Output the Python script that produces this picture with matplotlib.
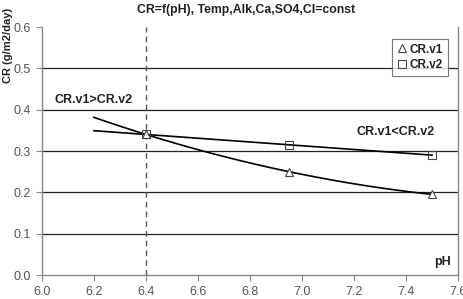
import numpy as np
import matplotlib
matplotlib.use("Agg")
import matplotlib.pyplot as plt

plt.rcParams['font.family'] = ['Liberation Sans', 'DejaVu Sans']

ph = [6.4, 6.95, 7.5]
cr_v1 = [0.34, 0.25, 0.195]
cr_v2 = [0.34, 0.315, 0.29]
trend_start = 6.2
xticks = [6.0, 6.2, 6.4, 6.6, 6.8, 7.0, 7.2, 7.4, 7.6]
yticks = [0.0, 0.1, 0.2, 0.3, 0.4, 0.5, 0.6]

fig = plt.figure(figsize=(4.64, 2.99), dpi=100)
ax = fig.add_axes([42/464, 1 - 275/299, 416/464, 248/299])

xs = np.linspace(trend_start, ph[-1], 100)
p1 = np.polyfit(ph, cr_v1, 2)
p2 = np.polyfit(ph, cr_v2, 1)
ax.plot(xs, np.polyval(p1, xs), color='black', lw=1.2, zorder=3)
ax.plot(xs, np.polyval(p2, xs), color='black', lw=1.2, zorder=3)

ax.plot(ph, cr_v1, linestyle='none', marker='^', mfc='white', mec='#444444', ms=6, mew=0.8, label='CR.v1', zorder=4)
ax.plot(ph, cr_v2, linestyle='none', marker='s', mfc='none', mec='#444444', ms=6, mew=0.8, label='CR.v2', zorder=4)

ax.axvline(6.4, color='#555555', ls=(0, (4, 3)), lw=1.0, zorder=2)

ax.set_xlim(6.0, 7.6)
ax.set_ylim(0.0, 0.6)
ax.set_xticks(xticks)
ax.set_yticks(yticks)
ax.set_xticklabels([f"{v:.1f}" for v in xticks], fontsize=9, color='#555555')
ax.set_yticklabels([f"{v:.1f}" for v in yticks], fontsize=9, color='#555555')
for v in yticks[1:-1]:
    ax.axhline(v, color='#222222', lw=0.9, zorder=1)

for s in ['left', 'bottom', 'right']:
    ax.spines[s].set_color('#888888')
    ax.spines[s].set_linewidth(1.0)
ax.spines['top'].set_visible(False)
ax.tick_params(direction='out', length=4, color='#888888', pad=4)

ax.text(6.05, 0.424, 'CR.v1>CR.v2', fontsize=9, fontweight='bold', color='#222222', va='center')
ax.text(7.21, 0.346, 'CR.v1<CR.v2', fontsize=9, fontweight='bold', color='#222222', va='center')
ax.text(7.51, 0.025, 'pH', fontsize=9, fontweight='bold', color='#222222')

fig.text(246/464, 1 - 10/299, 'CR=f(pH), Temp,Alk,Ca,SO4,Cl=const', ha='center', va='center',
         fontsize=8.8, fontweight='bold', color='#222222')
fig.text(8/464, 1 - 45/299, 'CR (g/m2/day)', rotation=90, ha='center', va='center',
         fontsize=8, fontweight='bold', color='#222222')

leg = ax.legend(loc='upper right', bbox_to_anchor=(454/464, 1 - 33/299), bbox_transform=fig.transFigure,
                fontsize=8.5, frameon=True, fancybox=False, handlelength=0.8, handletextpad=0.3,
                borderpad=0.4, labelspacing=0.3, edgecolor='#555555')
leg.get_frame().set_linewidth(0.8)
for t in leg.get_texts():
    t.set_fontweight('bold')
    t.set_color('#222222')

fig.savefig('out.png', dpi=100)
